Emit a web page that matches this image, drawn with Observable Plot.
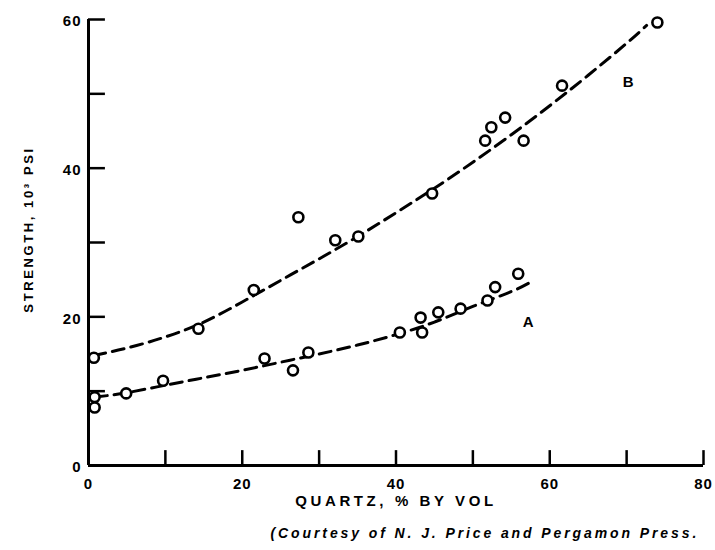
<!DOCTYPE html>
<html>
<head>
<meta charset="utf-8">
<script src="https://cdn.jsdelivr.net/npm/d3@7"></script>
<script src="https://cdn.jsdelivr.net/npm/@observablehq/plot@0.6"></script>
<style>
  html, body { margin: 0; padding: 0; background: #fff; }
  #chart svg { display: block; overflow: visible; }
</style>
</head>
<body>
<div id="chart"></div>
<script>
// Series B (upper) observed points
const bX = [0.7, 14.3, 21.5, 27.3, 32.1, 35.1, 44.7, 51.6, 52.4, 54.2, 56.6, 61.6, 74.0];
const bY = [14.5, 18.4, 23.6, 33.4, 30.3, 30.8, 36.6, 43.7, 45.5, 46.8, 43.7, 51.1, 59.6];
// Series A (lower) observed points
const aX = [0.8, 0.8, 4.9, 9.7, 22.9, 26.6, 28.6, 40.5, 43.2, 43.4, 45.5, 48.4, 51.9, 52.9, 55.9];
const aY = [9.2, 7.8, 9.7, 11.4, 14.4, 12.8, 15.2, 17.9, 19.9, 17.9, 20.6, 21.1, 22.2, 24.0, 25.8];
// Dashed fitted curves
const bCurveX = [0.7, 5, 10, 15, 20, 25, 30, 35, 40, 45, 50, 55, 60, 65, 70, 72.6];
const bCurveY = [14.8, 15.8, 17.3, 19.3, 22.0, 24.9, 27.8, 30.8, 34.0, 37.3, 40.8, 44.5, 48.4, 52.5, 56.8, 59.2];
const aCurveX = [0.9, 5, 10, 15, 20, 25, 30, 35, 40, 45, 50, 55, 57.9];
const aCurveY = [9.2, 9.8, 10.8, 11.8, 12.8, 13.9, 15.0, 16.2, 17.6, 19.3, 21.4, 23.4, 24.9];
// Axes
const xTicks = [10, 20, 30, 40, 50, 60, 70, 80];
const yTicks = [10, 20, 30, 40, 50, 60];
const xTickLabels = [0, 20, 40, 60, 80];
const yTickLabels = [0, 20, 40, 60];
const curveLabels = [{x: 70.2, y: 51.6, t: "B"}, {x: 57.2, y: 19.3, t: "A"}];

const toPts = (xs, ys) => xs.map((x, i) => ({x, y: ys[i]}));
const bPts = toPts(bX, bY), aPts = toPts(aX, aY);
const bCurve = toPts(bCurveX, bCurveY), aCurve = toPts(aCurveX, aCurveY);

const font = "'Liberation Sans', Arial, sans-serif";

const chart = Plot.plot({
  width: 715,
  height: 550,
  marginLeft: 88,
  marginRight: 12,
  marginTop: 19,
  marginBottom: 85,
  style: {fontFamily: font, background: "#fff", color: "#000"},
  x: {domain: [0, 80], axis: null},
  y: {domain: [0, 60], axis: null},
  marks: [
    // axis lines
    Plot.ruleY([0], {x1: 0, x2: 80, stroke: "#000", strokeWidth: 3}),
    Plot.ruleX([0], {y1: 0, y2: 60, stroke: "#000", strokeWidth: 3}),
    // inward ticks
    Plot.ruleX(xTicks, {x: d => d, y1: 0, y2: 2, stroke: "#000", strokeWidth: 2.5}),
    Plot.ruleY(yTicks, {y: d => d, x1: 0, x2: 2.2, stroke: "#000", strokeWidth: 2.5}),
    // tick labels
    Plot.text(xTickLabels, {x: d => d, y: 0, text: d => String(d), dy: 19, fontSize: 15, fontWeight: "bold", fill: "#000"}),
    Plot.text(yTickLabels, {x: 0, y: d => d, text: d => String(d), dx: -7, dy: 2, textAnchor: "end", fontSize: 15, fontWeight: "bold", fill: "#000"}),
    // curves
    Plot.line(bCurve, {x: "x", y: "y", curve: "natural", stroke: "#000", strokeWidth: 3, strokeDasharray: "12,7"}),
    Plot.line(aCurve, {x: "x", y: "y", curve: "natural", stroke: "#000", strokeWidth: 3, strokeDasharray: "12,7"}),
    // points
    Plot.dot(bPts, {x: "x", y: "y", r: 5, stroke: "#000", strokeWidth: 2.6, fill: "#fff"}),
    Plot.dot(aPts, {x: "x", y: "y", r: 5, stroke: "#000", strokeWidth: 2.6, fill: "#fff"}),
    // series labels
    Plot.text(curveLabels, {x: "x", y: "y", text: "t", fontSize: 15, fontWeight: "bold", fill: "#000"}),
    // axis titles
    Plot.text(["STRENGTH, 10³ PSI"], {frameAnchor: "left", textAnchor: "middle", rotate: -90, dx: -60, dy: -13, fontSize: 13, fontWeight: "bold", fill: "#000"}),
    Plot.text(["QUARTZ, % BY VOL"], {frameAnchor: "bottom", textAnchor: "middle", dx: 0, dy: 40, fontSize: 15, fontWeight: "bold", fill: "#000"}),
    Plot.text(["(Courtesy of N. J. Price and Pergamon Press."], {frameAnchor: "bottom-left", textAnchor: "start", dx: 182, dy: 72, fontSize: 14, fontWeight: "bold", fontStyle: "italic", fill: "#000"})
  ]
});
document.getElementById("chart").appendChild(chart);
// letter spacing on title texts
chart.querySelectorAll("text").forEach(t => {
  const s = t.textContent;
  if (s.startsWith("STRENGTH")) t.setAttribute("letter-spacing", "2.6");
  if (s.startsWith("QUARTZ")) t.setAttribute("letter-spacing", "3.6");
  if (s.startsWith("(Courtesy")) t.setAttribute("letter-spacing", "2.9");
  if (/^\d+$/.test(s)) t.setAttribute("letter-spacing", "1");
});
</script>
</body>
</html>
